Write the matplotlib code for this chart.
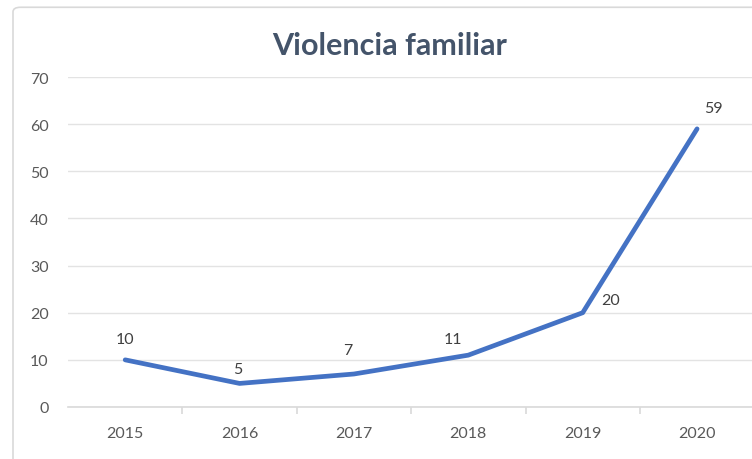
import matplotlib
matplotlib.use('Agg')
import matplotlib.pyplot as plt
from matplotlib.patches import FancyBboxPatch

# datos del grafico
anios = ["2015", "2016", "2017", "2018", "2019", "2020"]
casos = [10, 5, 7, 11, 20, 59]
y_ticks = [0, 10, 20, 30, 40, 50, 60, 70]

# desplazamiento de las etiquetas (pixeles)
desplaz = [(0, 21), (-2, 14), (-6, 24), (-15, 16), (28, 13), (16, 21)]

plt.rcParams['font.family'] = ['Lato', 'DejaVu Sans']

fig = plt.figure(figsize=(7.52, 4.6), dpi=100)
fig.patch.set_facecolor('white')

# borde del area del grafico
borde = FancyBboxPatch((13 / 752, -0.05), 1.2, 1.032, boxstyle="round,pad=0,rounding_size=0.01",
                       transform=fig.transFigure, facecolor='none', edgecolor='#d9d9d9',
                       linewidth=1.2, zorder=0)
fig.patches.append(borde)

ax = fig.add_axes([68 / 752, 1 - 408 / 460, 1 - 68 / 752 + 0.003, (408 - 78) / 460])
ax.set_facecolor('none')

x = list(range(len(anios)))
ax.plot(x, casos, color='#4472c4', linewidth=3.4, solid_joinstyle='round',
        solid_capstyle='round', zorder=3)

for i, v in enumerate(casos):
    dx, dy = desplaz[i]
    ax.annotate(str(v), (x[i], v), xytext=(dx, dy), textcoords='offset pixels',
                ha='center', va='center', fontsize=11.5, color='#404040')

ax.set_xlim(-0.5, len(anios) - 0.5)
ax.set_ylim(0, 70)
ax.set_yticks(y_ticks)
ax.set_xticks(x)
ax.set_xticklabels(anios)
ax.set_xticks([i + 0.5 for i in x[:-1]], minor=True)

ax.grid(axis='y', color='#e3e3e3', linewidth=1)
ax.set_axisbelow(True)
for s in ['top', 'right', 'left']:
    ax.spines[s].set_visible(False)
ax.spines['bottom'].set_color('#d9d9d9')
ax.spines['bottom'].set_linewidth(1.2)

ax.tick_params(axis='y', length=0, pad=14, labelsize=11.5, labelcolor='#595959')
ax.tick_params(axis='x', which='major', length=0, pad=14, labelsize=11.5, labelcolor='#595959')
ax.tick_params(axis='x', which='minor', length=5, color='#d9d9d9', width=1.2)

fig.text(390 / 752, 1 - 46 / 460, "Violencia familiar", ha='center', va='center',
         fontsize=22, fontweight='bold', color='#44546a')

plt.savefig("out.png", dpi=100)
plt.close(fig)
